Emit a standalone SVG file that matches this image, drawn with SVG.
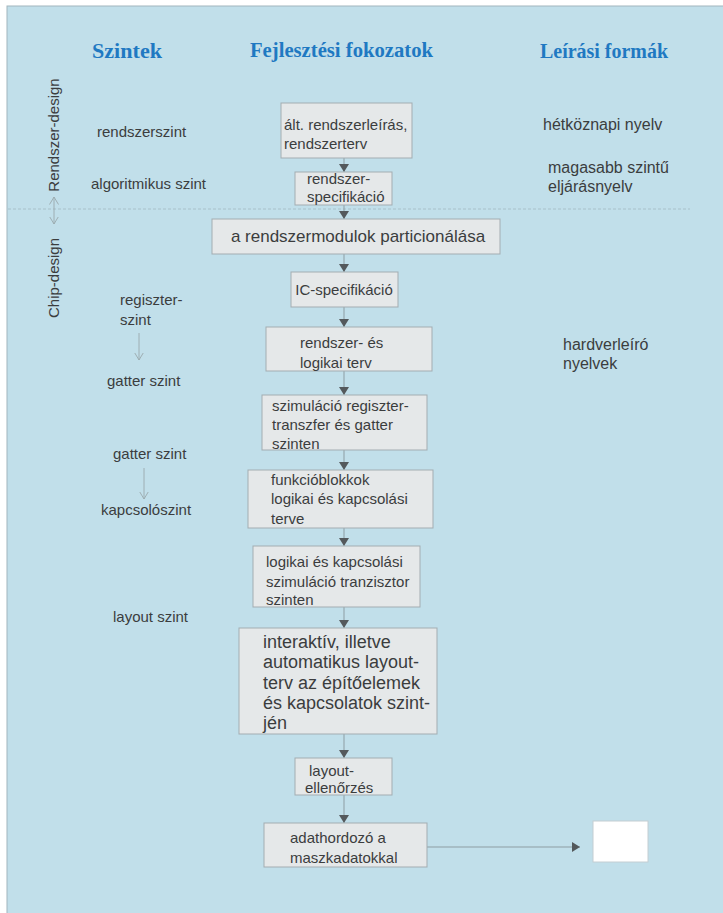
<svg xmlns="http://www.w3.org/2000/svg" width="723" height="913" viewBox="0 0 723 913">
  <defs>
    <style>
      .head { font-family: "Liberation Serif", "Times New Roman", serif; font-weight: bold; font-size: 22px; fill: #1f79c2; }
      .lbl { font-family: "Liberation Sans", Arial, sans-serif; font-size: 15px; fill: #3b3d3e; }
      .rlbl { font-family: "Liberation Sans", Arial, sans-serif; font-size: 16px; fill: #3b3d3e; }
      .box { fill: #e5e8e9; stroke: #a3adb1; stroke-width: 1; }
      .btxt { font-family: "Liberation Sans", Arial, sans-serif; font-size: 15px; fill: #3b3d3e; }
      .btxt.wide { font-size: 17px; }
      .btxt.big { font-size: 18px; }
      .conn { stroke: #8d9da3; stroke-width: 1; fill: none; }
      .thin { stroke: #9aa9ae; stroke-width: 0.9; fill: none; }
    </style>
    <marker id="tri" viewBox="0 0 8 10" refX="8" refY="5" markerWidth="8" markerHeight="10" orient="auto" markerUnits="userSpaceOnUse">
      <path d="M0,0 L8,5 L0,10 Z" fill="#54595c"/>
    </marker>
    <marker id="chev" viewBox="0 0 8 10" refX="7.5" refY="5" markerWidth="8" markerHeight="10" orient="auto-start-reverse" markerUnits="userSpaceOnUse">
      <path d="M0,0.5 L7.5,5 L0,9.5" fill="none" stroke="#9aa9ae" stroke-width="0.9"/>
    </marker>
  </defs>

  <!-- page background -->
  <rect x="0" y="0" width="723" height="913" fill="#ffffff"/>
  <rect x="7" y="6" width="717" height="908" fill="#c1dfea" stroke="#a2b6bd" stroke-width="1"/>

  <!-- column headings -->
  <g id="headings">
    <text class="head" x="92" y="58" textLength="70" lengthAdjust="spacingAndGlyphs">Szintek</text>
    <text class="head" x="250" y="57" textLength="183" lengthAdjust="spacingAndGlyphs">Fejlesztési fokozatok</text>
    <text class="head" x="540" y="58" textLength="128" lengthAdjust="spacingAndGlyphs">Leírási formák</text>
  </g>

  <!-- boundary between system design and chip design -->
  <line x1="8" y1="209" x2="690" y2="209" stroke="#a8c1ca" stroke-width="1" stroke-dasharray="3,2"/>

  <!-- design phases along the left edge -->
  <g id="phases">
    <text class="lbl" transform="translate(59,135) rotate(-90)" text-anchor="middle">Rendszer-design</text>
    <text class="lbl" transform="translate(59,278) rotate(-90)" text-anchor="middle">Chip-design</text>
    <line class="thin" x1="54" y1="197" x2="54" y2="224" marker-start="url(#chev)" marker-end="url(#chev)"/>
  </g>

  <!-- abstraction levels -->
  <g id="levels">
    <text class="lbl" x="97" y="137">rendszerszint</text>
    <text class="lbl" x="91" y="189">algoritmikus szint</text>
    <text class="lbl" x="120" y="305">regiszter-</text>
    <text class="lbl" x="120" y="325">szint</text>
    <line class="thin" x1="139" y1="333" x2="139" y2="360" marker-end="url(#chev)"/>
    <text class="lbl" x="107" y="386">gatter szint</text>
    <text class="lbl" x="113" y="459">gatter szint</text>
    <line class="thin" x1="144" y1="468" x2="144" y2="499" marker-end="url(#chev)"/>
    <text class="lbl" x="101" y="515">kapcsolószint</text>
    <text class="lbl" x="113" y="622">layout szint</text>
  </g>

  <!-- description forms -->
  <g id="forms">
    <text class="rlbl" x="543" y="130">hétköznapi nyelv</text>
    <text class="rlbl" x="548" y="173">magasabb szintű</text>
    <text class="rlbl" x="548" y="192">eljárásnyelv</text>
    <text class="rlbl" x="563" y="350">hardverleíró</text>
    <text class="rlbl" x="563" y="369">nyelvek</text>
  </g>

  <!-- connectors -->
  <g id="connectors">
    <line class="conn" x1="344" y1="158" x2="344" y2="172" marker-end="url(#tri)"/>
    <line class="conn" x1="344" y1="205" x2="344" y2="219" marker-end="url(#tri)"/>
    <line class="conn" x1="344" y1="254" x2="344" y2="272" marker-end="url(#tri)"/>
    <line class="conn" x1="344" y1="307" x2="344" y2="327" marker-end="url(#tri)"/>
    <line class="conn" x1="344" y1="371" x2="344" y2="395" marker-end="url(#tri)"/>
    <line class="conn" x1="344" y1="450" x2="344" y2="470" marker-end="url(#tri)"/>
    <line class="conn" x1="344" y1="528" x2="344" y2="546" marker-end="url(#tri)"/>
    <line class="conn" x1="344" y1="607" x2="344" y2="628" marker-end="url(#tri)"/>
    <line class="conn" x1="344" y1="734" x2="344" y2="758" marker-end="url(#tri)"/>
    <line class="conn" x1="344" y1="795" x2="344" y2="823" marker-end="url(#tri)"/>
    <line class="conn" x1="427" y1="847" x2="580" y2="847" marker-end="url(#tri)"/>
  </g>

  <!-- development stages -->
  <g id="stage-1">
    <rect class="box" x="281" y="103" width="131" height="55"/>
    <text class="btxt" x="284" y="130">ált. rendszerleírás,</text>
    <text class="btxt" x="284" y="149">rendszerterv</text>
  </g>
  <g id="stage-2">
    <rect class="box" x="295" y="172" width="97" height="33"/>
    <text class="btxt" x="307" y="184">rendszer-</text>
    <text class="btxt" x="307" y="202">specifikáció</text>
  </g>
  <g id="stage-3">
    <rect class="box" x="212" y="219" width="288" height="35"/>
    <text class="btxt wide" x="358" y="242" text-anchor="middle">a rendszermodulok particionálása</text>
  </g>
  <g id="stage-4">
    <rect class="box" x="291" y="272" width="107" height="35"/>
    <text class="btxt" x="344" y="295" text-anchor="middle">IC-specifikáció</text>
  </g>
  <g id="stage-5">
    <rect class="box" x="266" y="327" width="166" height="44"/>
    <text class="btxt" x="300" y="348">rendszer- és</text>
    <text class="btxt" x="300" y="368">logikai terv</text>
  </g>
  <g id="stage-6">
    <rect class="box" x="262" y="395" width="165" height="55"/>
    <text class="btxt" x="272" y="411">szimuláció regiszter-</text>
    <text class="btxt" x="272" y="430">transzfer és gatter</text>
    <text class="btxt" x="272" y="449">szinten</text>
  </g>
  <g id="stage-7">
    <rect class="box" x="248" y="470" width="185" height="58"/>
    <text class="btxt" x="271" y="485">funkcióblokkok</text>
    <text class="btxt" x="271" y="504">logikai és kapcsolási</text>
    <text class="btxt" x="271" y="524">terve</text>
  </g>
  <g id="stage-8">
    <rect class="box" x="253" y="546" width="167" height="61"/>
    <text class="btxt" x="266" y="567">logikai és kapcsolási</text>
    <text class="btxt" x="266" y="587">szimuláció tranzisztor</text>
    <text class="btxt" x="266" y="605">szinten</text>
  </g>
  <g id="stage-9">
    <rect class="box" x="239" y="628" width="198" height="106"/>
    <text class="btxt big" x="263" y="648">interaktív, illetve</text>
    <text class="btxt big" x="263" y="668">automatikus layout-</text>
    <text class="btxt big" x="263" y="689">terv az építőelemek</text>
    <text class="btxt big" x="263" y="709">és kapcsolatok szint-</text>
    <text class="btxt big" x="263" y="729">jén</text>
  </g>
  <g id="stage-10">
    <rect class="box" x="295" y="758" width="97" height="37"/>
    <text class="btxt" x="309" y="776">layout-</text>
    <text class="btxt" x="305" y="793">ellenőrzés</text>
  </g>
  <g id="stage-11">
    <rect class="box" x="264" y="823" width="163" height="44"/>
    <text class="btxt" x="290" y="843">adathordozó a</text>
    <text class="btxt" x="290" y="863">maszkadatokkal</text>
  </g>
  <g id="output">
    <rect x="593" y="821" width="55" height="41" fill="#ffffff" stroke="#c4ced2" stroke-width="1"/>
  </g>
</svg>
